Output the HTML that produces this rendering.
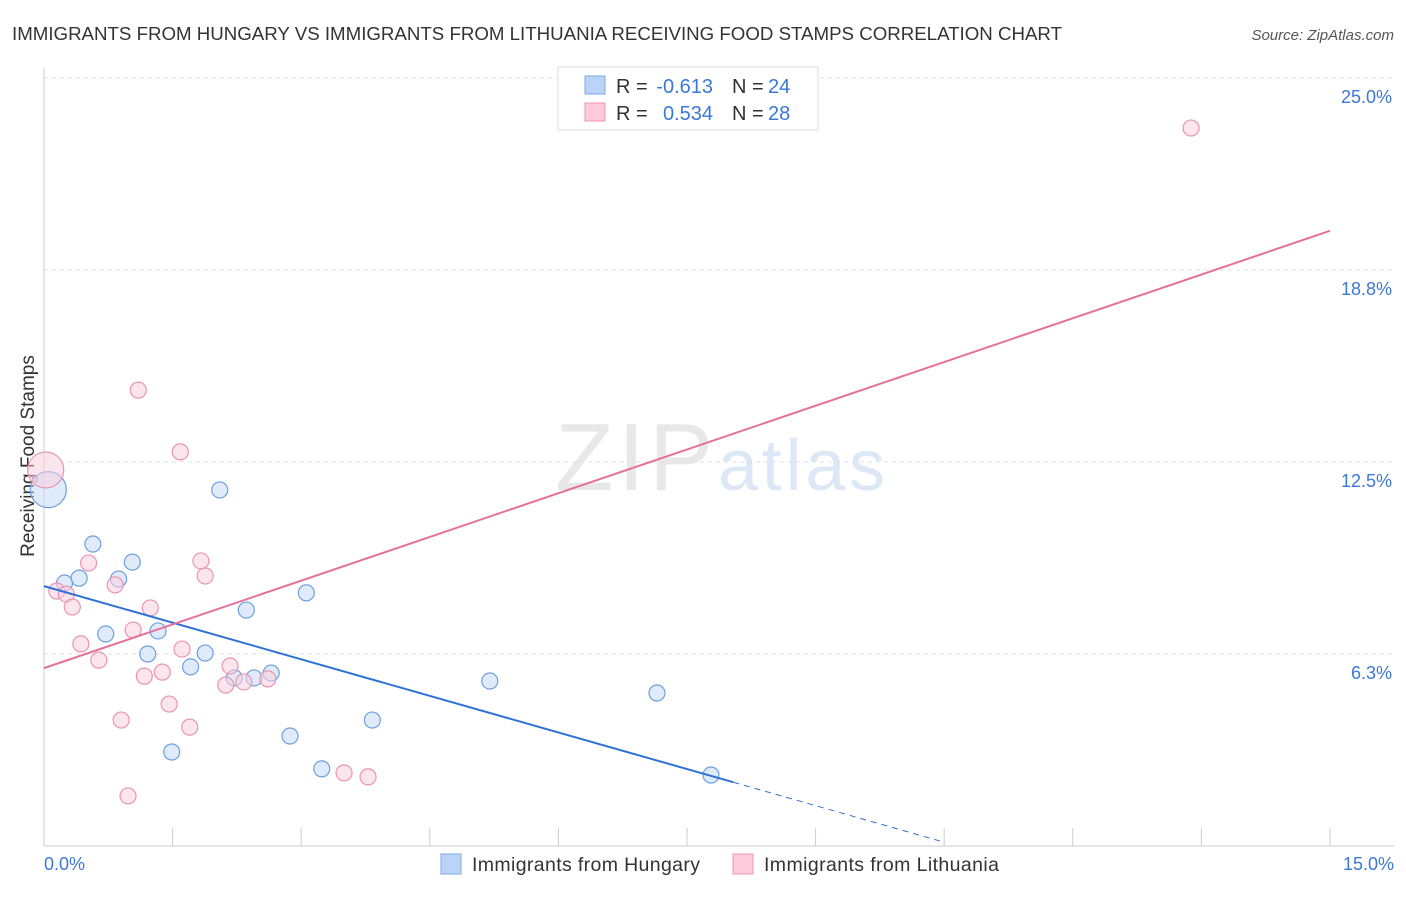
<!DOCTYPE html>
<html><head><meta charset="utf-8"><style>
body{margin:0;background:#fff;font-family:"Liberation Sans",sans-serif;}
svg text{font-family:"Liberation Sans",sans-serif;}
</style></head><body>
<svg id="chart" width="1406" height="892">
<text x="12" y="40" font-size="18.7" fill="#333" textLength="1050">IMMIGRANTS FROM HUNGARY VS IMMIGRANTS FROM LITHUANIA RECEIVING FOOD STAMPS CORRELATION CHART</text>
<text x="1394" y="40" font-size="15" fill="#555" font-style="italic" text-anchor="end">Source: ZipAtlas.com</text>
<text x="555" y="490" font-size="96" fill="#e8e8e8" textLength="158" font-family="Liberation Serif">ZIP</text>
<text x="718" y="490" font-size="72" fill="#dde8f6" textLength="167">atlas</text>
<text transform="translate(34,456) rotate(-90)" font-size="19" fill="#333" text-anchor="middle">Receiving Food Stamps</text>
<g id="grid"></g><g id="marks"></g>
<g>
<rect x="558" y="67" width="260" height="63" fill="#fff" stroke="#ddd"/>
<rect x="585" y="76" width="20" height="18" fill="#b9d4f7" stroke="#7aa7e6"/>
<rect x="585" y="103" width="20" height="18" fill="#fccada" stroke="#eb95b3"/>
<text x="616" y="93" font-size="20" fill="#333">R =</text>
<text x="713" y="93" font-size="20" fill="#3b78d8" text-anchor="end">-0.613</text>
<text x="732" y="93" font-size="20" fill="#333">N =</text>
<text x="768" y="93" font-size="20" fill="#3b78d8">24</text>
<text x="616" y="120" font-size="20" fill="#333">R =</text>
<text x="713" y="120" font-size="20" fill="#3b78d8" text-anchor="end">0.534</text>
<text x="732" y="120" font-size="20" fill="#333">N =</text>
<text x="768" y="120" font-size="20" fill="#3b78d8">28</text>
</g>
<g>
<rect x="441" y="854" width="20" height="20" fill="#b9d4f7" stroke="#7aa7e6"/>
<text x="472" y="871" font-size="19.5" fill="#333" textLength="228">Immigrants from Hungary</text>
<rect x="733" y="854" width="20" height="20" fill="#fccada" stroke="#eb95b3"/>
<text x="764" y="871" font-size="19.5" fill="#333" textLength="235">Immigrants from Lithuania</text>
</g>
</svg>
<script>
const yTicks=[25.0,18.8,12.5,6.3];
const yTickVals=[25,18.75,12.5,6.25];
const hungaryX=[0.05,0.24,0.41,0.57,0.72,0.87,1.03,1.21,1.33,1.49,1.71,1.88,2.05,2.22,2.36,2.45,2.65,2.87,3.06,3.24,3.83,5.2,7.15,7.78];
const hungaryY=[11.6,8.56,8.72,9.83,6.9,8.69,9.24,6.25,7.0,3.06,5.83,6.28,11.59,5.47,7.68,5.47,5.63,3.58,8.24,2.51,4.1,5.37,4.98,2.31];
const lithX=[0.02,0.15,0.26,0.33,0.43,0.52,0.64,0.83,0.9,0.98,1.04,1.1,1.17,1.24,1.38,1.46,1.59,1.61,1.70,1.83,1.88,2.12,2.17,2.33,2.61,3.5,3.78,13.38];
const lithY=[12.24,8.3,8.2,7.78,6.58,9.21,6.05,8.5,4.1,1.63,7.03,14.84,5.53,7.75,5.66,4.62,12.83,6.41,3.87,9.28,8.79,5.24,5.86,5.34,5.44,2.38,2.25,23.37];
const hungaryTrend=[8.46,-0.794,8.04,10.51];
const lithTrend=[5.79,0.949,15];
const NS="http://www.w3.org/2000/svg";
const X=v=>44+v*85.73, Y=v=>846-v*30.72;
function mk(p,t,a){const e=document.createElementNS(NS,t);for(const k in a)e.setAttribute(k,a[k]);document.getElementById(p).appendChild(e);return e;}
yTickVals.forEach((v,i)=>{
 const l=mk('grid','line',{x1:44,x2:1394,y1:Y(v),y2:Y(v),stroke:'#e2e2e2','stroke-dasharray':'4,4'});
 
 
 const t=mk('grid','text',{x:1392,y:Y(v)+25,'font-size':18,fill:'#3b78d8','text-anchor':'end'});
 t.textContent=yTicks[i].toFixed(1)+'%';
 
 
});
let ax=mk('grid','line',{x1:44,x2:1394,y1:846,y2:846,stroke:'#ccc'});


let ay=mk('grid','line',{x1:44,x2:44,y1:68,y2:846,stroke:'#ccc'});


for(let i=0;i<=10;i++){const t=mk('grid','line',{x1:X(i*1.5),x2:X(i*1.5),y1:828,y2:846,stroke:'#ccc'});
 
 }
[[0,'0.0%','start',44],[15,'15.0%','end',1394]].forEach(d=>{const t=mk('grid','text',{x:d[3],y:870,'font-size':18,fill:'#3b78d8','text-anchor':d[2]});t.textContent=d[1];
 
 });
function pts(xs,ys,fill,stroke,name){xs.forEach((x,i)=>{const r=i==0?18:8;const c=mk('marks','circle',{cx:X(x),cy:Y(ys[i]),r:r,fill:fill,'fill-opacity':0.55,stroke:stroke,'stroke-width':1.2});
 
 });}
pts(hungaryX,hungaryY,'#c5daf7','#6e9fe0','hungary-point');
pts(lithX,lithY,'#fcd0de','#e994b2','lithuania-point');
const hb=hungaryTrend;
let l1=mk('marks','line',{x1:X(0),y1:Y(hb[0]),x2:X(hb[2]),y2:Y(hb[0]+hb[1]*hb[2]),stroke:'#2f72d6','stroke-width':2});


let l2=mk('marks','line',{x1:X(hb[2]),y1:Y(hb[0]+hb[1]*hb[2]),x2:X(hb[3]),y2:Y(hb[0]+hb[1]*hb[3]),stroke:'#2f72d6','stroke-width':1,'stroke-dasharray':'6,5'});


const lt=lithTrend;
let l3=mk('marks','line',{x1:X(0),y1:Y(lt[0]),x2:X(lt[2]),y2:Y(lt[0]+lt[1]*lt[2]),stroke:'#e5709a','stroke-width':2});


</script>
</body></html>
